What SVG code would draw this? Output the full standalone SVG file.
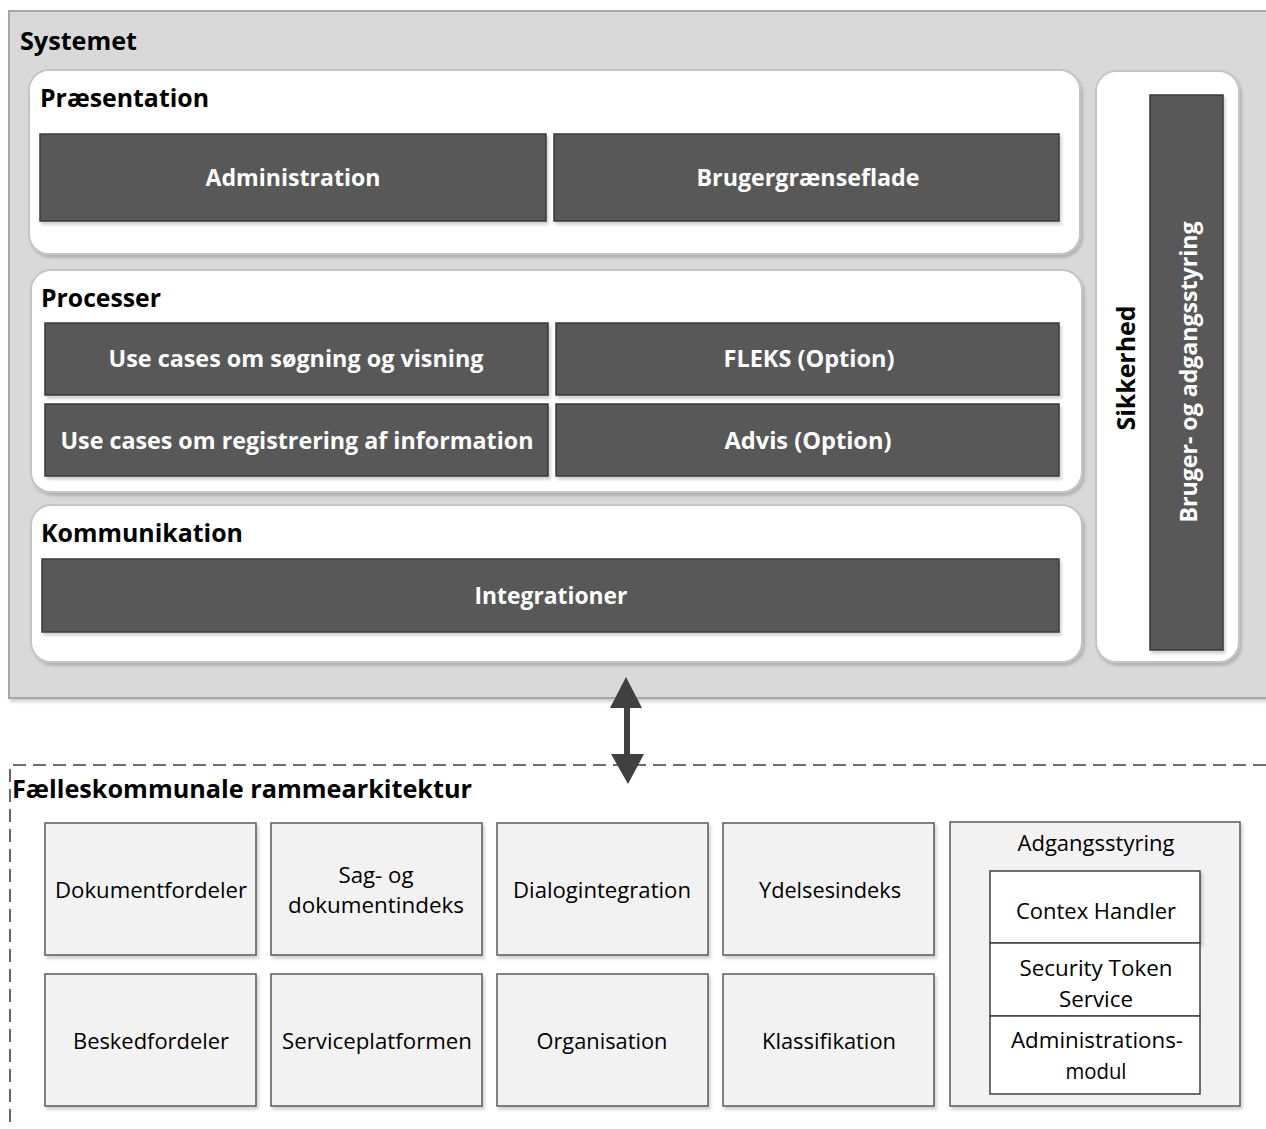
<svg xmlns="http://www.w3.org/2000/svg" width="1266" height="1129" viewBox="0 0 1266 1129">
<style>
.h{font-family:"Open Sans","Liberation Sans",sans-serif;font-weight:bold;fill:#000;font-size:25px}
.w{font-family:"Open Sans","Liberation Sans",sans-serif;font-weight:bold;fill:#fff;font-size:23px;text-anchor:middle}
.t{font-family:"Open Sans","Liberation Sans",sans-serif;fill:#000;font-size:21.5px;text-anchor:middle}
.panel{fill:#fff;stroke:#c4c4c4;stroke-width:2}
.dark{fill:#595959;stroke:#3a3a3a;stroke-width:1.5}
.lg{fill:#f2f2f2;stroke:#595959;stroke-width:1.5}
</style>
<defs>
<filter id="sh" x="-5%" y="-5%" width="110%" height="115%">
<feDropShadow dx="2" dy="3" stdDeviation="1.5" flood-color="#000" flood-opacity="0.18"/>
</filter>
</defs>
<rect width="1266" height="1129" fill="#fff"/>

<g id="systemet">
<rect x="9" y="11" width="1270" height="687" fill="#d9d9d9" stroke="#a6a6a6" stroke-width="2" filter="url(#sh)"/>
<text class="h" x="20" y="50" textLength="117" lengthAdjust="spacingAndGlyphs">Systemet</text>
</g>

<g id="praesentation">
<rect class="panel" x="29" y="70" width="1051" height="184" rx="20" filter="url(#sh)"/>
<text class="h" x="40" y="107" textLength="169" lengthAdjust="spacingAndGlyphs">Præsentation</text>
</g>
<g id="administration">
<rect class="dark" x="40" y="134" width="506" height="87" filter="url(#sh)"/>
<text class="w" x="293" y="186" textLength="175" lengthAdjust="spacingAndGlyphs">Administration</text>
</g>
<g id="brugergraenseflade">
<rect class="dark" x="554" y="134" width="505" height="87" filter="url(#sh)"/>
<text class="w" x="808" y="186" textLength="223" lengthAdjust="spacingAndGlyphs">Brugergrænseflade</text>
</g>

<g id="processer">
<rect class="panel" x="31" y="270" width="1051" height="222" rx="20" filter="url(#sh)"/>
<text class="h" x="41" y="307" textLength="120" lengthAdjust="spacingAndGlyphs">Processer</text>
</g>
<g id="uc-soegning">
<rect class="dark" x="45" y="323" width="503" height="72" filter="url(#sh)"/>
<text class="w" x="296" y="367" textLength="375" lengthAdjust="spacingAndGlyphs">Use cases om søgning og visning</text>
</g>
<g id="fleks">
<rect class="dark" x="556" y="323" width="503" height="72" filter="url(#sh)"/>
<text class="w" x="809" y="367" textLength="171" lengthAdjust="spacingAndGlyphs">FLEKS (Option)</text>
</g>
<g id="uc-registrering">
<rect class="dark" x="45" y="404" width="503" height="72" filter="url(#sh)"/>
<text class="w" x="297" y="449" textLength="473" lengthAdjust="spacingAndGlyphs">Use cases om registrering af information</text>
</g>
<g id="advis">
<rect class="dark" x="556" y="404" width="503" height="72" filter="url(#sh)"/>
<text class="w" x="808" y="449" textLength="167" lengthAdjust="spacingAndGlyphs">Advis (Option)</text>
</g>

<g id="kommunikation">
<rect class="panel" x="31" y="505" width="1051" height="157" rx="20" filter="url(#sh)"/>
<text class="h" x="41" y="542" textLength="202" lengthAdjust="spacingAndGlyphs">Kommunikation</text>
</g>
<g id="integrationer">
<rect class="dark" x="42" y="559" width="1017" height="73" filter="url(#sh)"/>
<text class="w" x="551" y="604" textLength="153" lengthAdjust="spacingAndGlyphs">Integrationer</text>
</g>

<g id="sikkerhed">
<rect class="panel" x="1096" y="71" width="143" height="591" rx="20" filter="url(#sh)"/>
<text class="h" transform="translate(1135,368) rotate(-90)" text-anchor="middle" textLength="125" lengthAdjust="spacingAndGlyphs">Sikkerhed</text>
</g>
<g id="bruger-adgangsstyring">
<rect class="dark" x="1150" y="95" width="73" height="555" filter="url(#sh)"/>
<text class="w" transform="translate(1197,372) rotate(-90)" textLength="301" lengthAdjust="spacingAndGlyphs">Bruger- og adgangsstyring</text>
</g>

<g id="connectors">
<path d="M626,677 L642,708 L630,708 L630,754 L644,754 L628,784 L611,754 L624,754 L624,708 L610,708 Z" fill="#404040"/>
</g>

<g id="faelleskommunale">
<path d="M1266,765 L10,765 L10,1129" fill="none" stroke="#404040" stroke-width="1.6" stroke-dasharray="13 7"/>
<text class="h" x="12" y="798" textLength="460" lengthAdjust="spacingAndGlyphs">Fælleskommunale rammearkitektur</text>
</g>

<g id="dokumentfordeler">
<rect class="lg" x="45" y="823" width="211" height="132" filter="url(#sh)"/>
<text class="t" x="151" y="898" textLength="192" lengthAdjust="spacingAndGlyphs">Dokumentfordeler</text>
</g>
<g id="sag-dokumentindeks">
<rect class="lg" x="271" y="823" width="211" height="132" filter="url(#sh)"/>
<text class="t" x="376" y="883" textLength="75" lengthAdjust="spacingAndGlyphs">Sag- og</text>
<text class="t" x="376" y="913" textLength="176" lengthAdjust="spacingAndGlyphs">dokumentindeks</text>
</g>
<g id="dialogintegration">
<rect class="lg" x="497" y="823" width="211" height="132" filter="url(#sh)"/>
<text class="t" x="602" y="898" textLength="178" lengthAdjust="spacingAndGlyphs">Dialogintegration</text>
</g>
<g id="ydelsesindeks">
<rect class="lg" x="723" y="823" width="211" height="132" filter="url(#sh)"/>
<text class="t" x="830" y="898" textLength="142" lengthAdjust="spacingAndGlyphs">Ydelsesindeks</text>
</g>
<g id="beskedfordeler">
<rect class="lg" x="45" y="974" width="211" height="132" filter="url(#sh)"/>
<text class="t" x="151" y="1049" textLength="156" lengthAdjust="spacingAndGlyphs">Beskedfordeler</text>
</g>
<g id="serviceplatformen">
<rect class="lg" x="271" y="974" width="211" height="132" filter="url(#sh)"/>
<text class="t" x="377" y="1049" textLength="190" lengthAdjust="spacingAndGlyphs">Serviceplatformen</text>
</g>
<g id="organisation">
<rect class="lg" x="497" y="974" width="211" height="132" filter="url(#sh)"/>
<text class="t" x="602" y="1049" textLength="131" lengthAdjust="spacingAndGlyphs">Organisation</text>
</g>
<g id="klassifikation">
<rect class="lg" x="723" y="974" width="211" height="132" filter="url(#sh)"/>
<text class="t" x="829" y="1049" textLength="134" lengthAdjust="spacingAndGlyphs">Klassifikation</text>
</g>

<g id="adgangsstyring">
<rect class="lg" x="950" y="822" width="290" height="284" filter="url(#sh)"/>
<text class="t" x="1096" y="851" textLength="157" lengthAdjust="spacingAndGlyphs">Adgangsstyring</text>
</g>
<g id="contex-handler">
<rect x="990" y="871" width="210" height="72" fill="#fff" stroke="#404040" stroke-width="1.5" filter="url(#sh)"/>
<text class="t" x="1096" y="919" textLength="160" lengthAdjust="spacingAndGlyphs">Contex Handler</text>
</g>
<g id="security-token-service">
<rect x="990" y="943" width="210" height="73" fill="#fff" stroke="#404040" stroke-width="1.5"/>
<text class="t" x="1096" y="976" textLength="153" lengthAdjust="spacingAndGlyphs">Security Token</text>
<text class="t" x="1096" y="1007" textLength="74" lengthAdjust="spacingAndGlyphs">Service</text>
</g>
<g id="administrationsmodul">
<rect x="990" y="1016" width="210" height="78" fill="#fff" stroke="#404040" stroke-width="1.5"/>
<text class="t" x="1097" y="1048" textLength="172" lengthAdjust="spacingAndGlyphs">Administrations-</text>
<text class="t" x="1096" y="1079" textLength="61" lengthAdjust="spacingAndGlyphs">modul</text>
</g>
</svg>
